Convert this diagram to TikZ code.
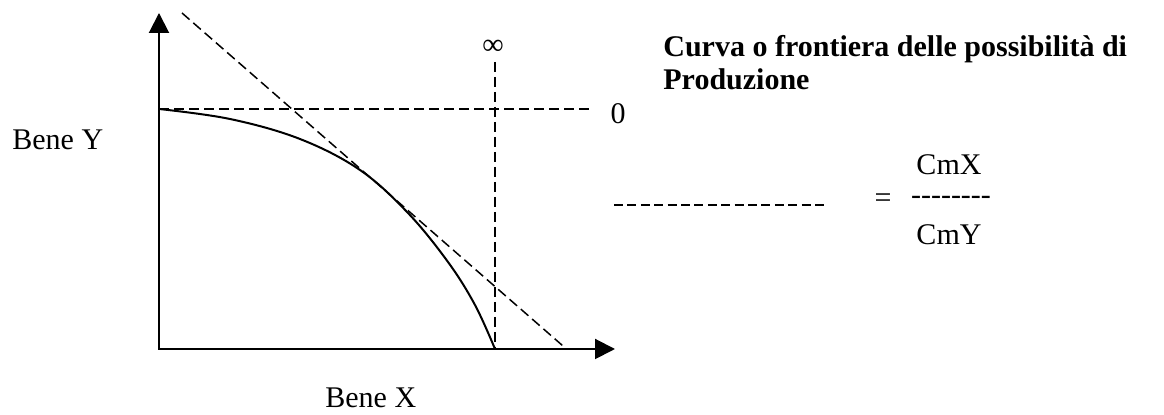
\documentclass[tikz,border=0pt]{standalone}
\usepackage{fontspec}
\setmainfont{Liberation Serif}
\usetikzlibrary{positioning,arrows.meta}

\begin{document}
\begin{tikzpicture}[x=0.5pt,y=-0.5pt,>={Triangle[length=10pt,width=10pt]},
  lbl/.style={inner sep=0pt,font=\fontsize{15}{18}\selectfont},
  title/.style={lbl,font=\fontsize{15}{18}\selectfont\bfseries,anchor=base west},
  axis/.style={line width=1pt},
  guide/.style={line width=0.75pt,dash pattern=on 5pt off 2.5pt},
  curve/.style={line width=1pt}]
\useasboundingbox (0,0) rectangle (1164,415);
% axes
\coordinate (O) at (159,349);
\coordinate (ytip) at (159,13);
\coordinate (xtip) at (615,349);
\draw[axis,<->] (ytip) -- (O) -- (xtip);
% guide lines
\coordinate (y0) at (159,109);
\coordinate (h0) at (590,109);
\coordinate (vtop) at (495,62);
\coordinate (xmax) at (495,349);
\coordinate (tanA) at (182,13);
\coordinate (tanB) at (563,346);
\draw[guide] (y0) -- (h0);
\draw[guide] (vtop) -- (xmax);
\draw[guide] (tanA) -- (tanB);
% frontier
\draw[curve] plot[smooth,tension=0.6] coordinates {(159,109) (230,119) (300,139)
  (360,170) (408,213) (448,262) (475,305) (495,349)};
% labels
\node[lbl,anchor=base west] (beneY) at (12,150) {Bene Y};
\node[lbl,anchor=base west] (beneX) at (325,408) {Bene X};
\node[lbl] (inf) at (493,47) {∞};
\node[lbl] (zero) at (618,114) {0};
\node[title] (tit1) at (663,57) {Curva o frontiera delle possibilità di};
\node[title] (tit2) at (663,90) {Produzione};
% ratio
\coordinate (mA) at (614,205);
\coordinate (mB) at (828,205);
\draw[line width=0.75pt,dash pattern=on 4.5pt off 2.2pt] (mA) -- (mB);
\node[lbl] (eq) at (883,201) {=};
\node[lbl] (bar) at (951,200) {-{}-{}-{}-{}-{}-{}-{}-};
\node[lbl] (cmx) at (949,165) {CmX};
\node[lbl] (cmy) at (949,235) {CmY};
\end{tikzpicture}
\end{document}
